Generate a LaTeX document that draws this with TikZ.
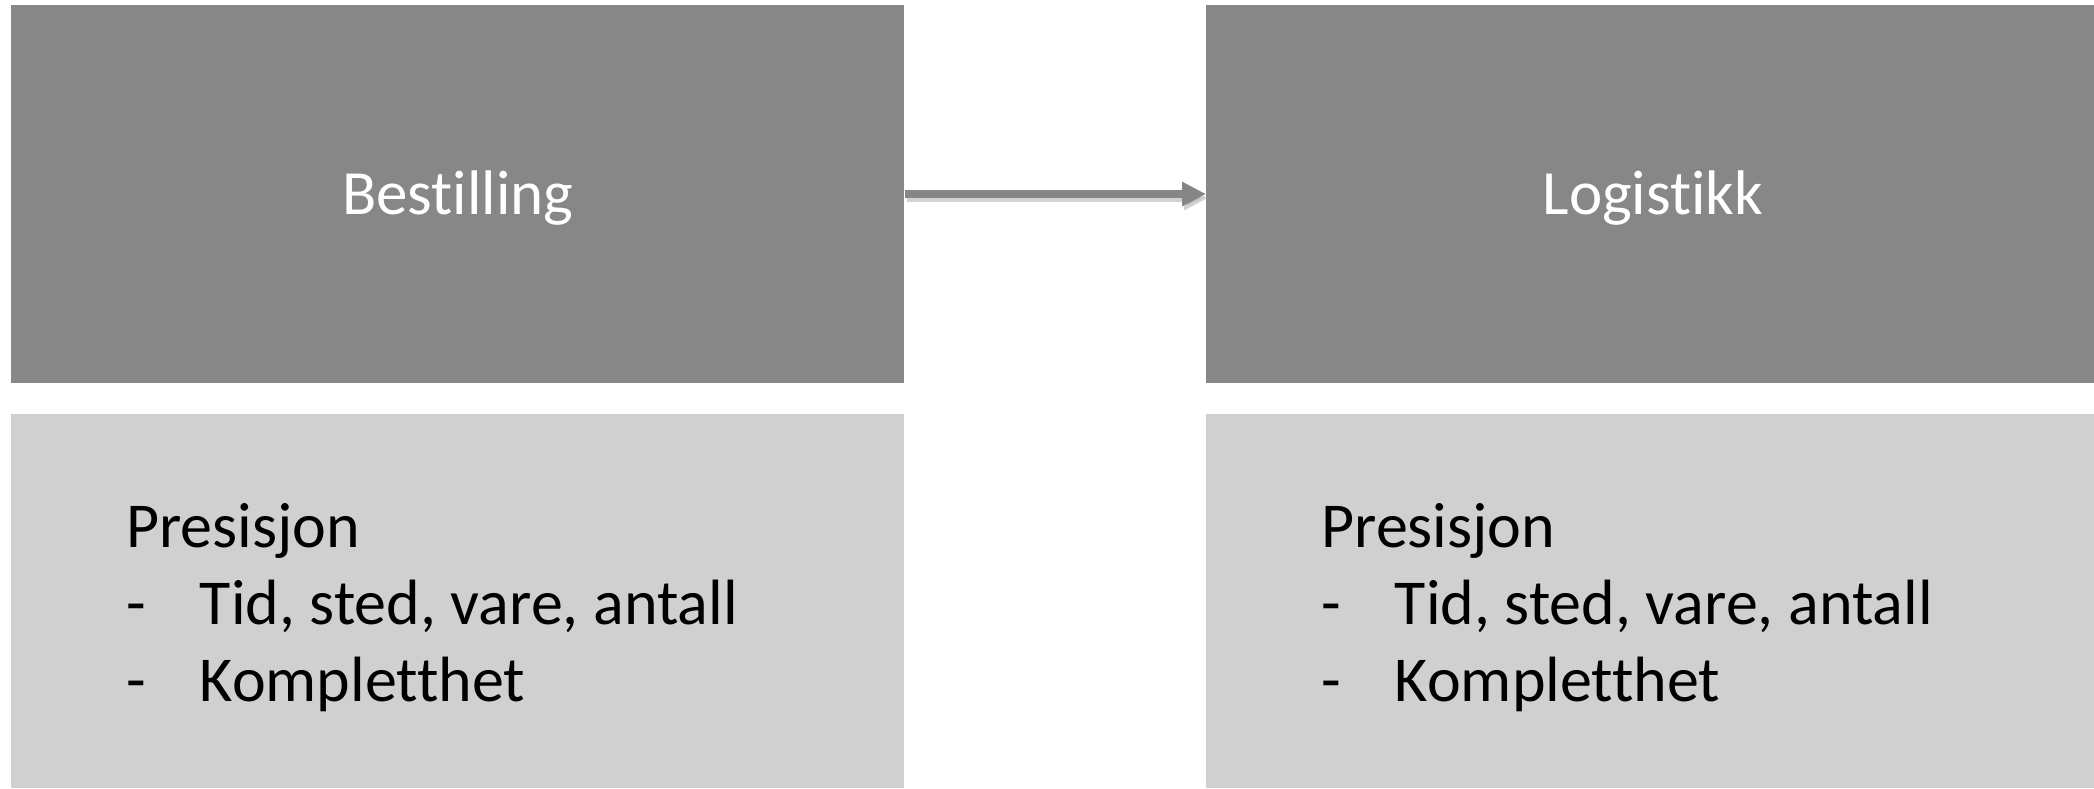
\documentclass[tikz,border=0pt]{standalone}
\usepackage{fontspec}
\setmainfont{Carlito}[Ligatures=NoCommon]
\usetikzlibrary{arrows.meta}
\definecolor{darkbox}{HTML}{878787}
\definecolor{lightbox}{HTML}{D0D0D0}
\definecolor{arrowgray}{HTML}{868686}
\tikzset{
  topbox/.style={fill=darkbox, draw=none, rectangle, inner sep=0pt, anchor=north west, minimum width=446.5pt, minimum height=189pt},
  botbox/.style={fill=lightbox, draw=none, rectangle, inner sep=0pt, anchor=north west, minimum width=446.5pt, minimum height=187pt},
  title/.style={text=white, anchor=base, inner sep=0pt, font=\fontsize{31.5pt}{38pt}\selectfont},
  body/.style={text=black, anchor=base west, align=left, inner sep=0pt, font=\fontsize{32pt}{38.3pt}\selectfont},
}
\newcommand{\dashitem}[1]{\makebox[36.8pt][l]{-}#1}
\begin{document}
\begin{tikzpicture}[x=0.5pt, y=-0.5pt]
\useasboundingbox (0,0) rectangle (2094,788);
\fill[white] (0,0) rectangle (2094,788);
\node[topbox] (b1) at (11,5) {};
\node[topbox] (l1) at (1206,5) {};
\node[botbox] (b2) at (11,414) {};
\node[botbox] (l2) at (1206,414) {};
\node[title] (b1t) at (b1.center |- 0,214) {Bestilling};
\node[title] (l1t) at (l1.center |- 0,214) {Logistikk};
\node[body] (b2t) at (126,701) {Presisjon\\\dashitem{Tid, sted, vare, antall}\\\dashitem{Kompletthet}};
\node[body] (l2t) at (1321,701) {Presisjon\\\dashitem{Tid, sted, vare, antall}\\\dashitem{Kompletthet}};
\coordinate (as) at (b1.east |- 0,194);
\coordinate (ae) at (l1.west |- 0,194);
\draw[black!35, opacity=0.5, line width=4pt, -{Triangle[length=12pt, width=11.5pt]}] ([shift={(2,4)}]as) -- ([shift={(2,4)}]ae);
\draw[arrowgray, line width=4pt, -{Triangle[length=12pt, width=11.5pt]}] (as) -- (ae);
\end{tikzpicture}
\end{document}
